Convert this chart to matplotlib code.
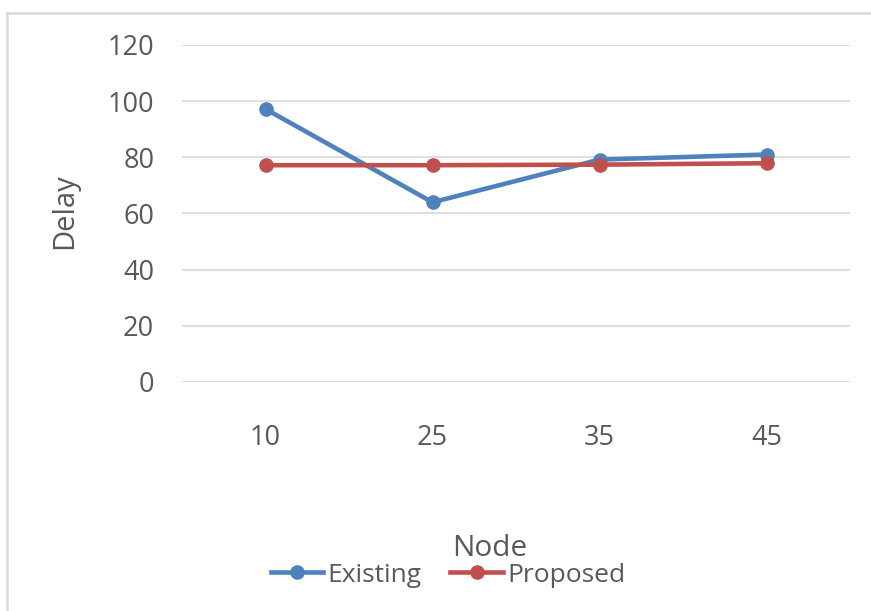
import matplotlib.pyplot as plt
from matplotlib.lines import Line2D

nodes = ['10', '25', '35', '45']
existing = [97.2, 64, 79.2, 81]
proposed = [77.2, 77.2, 77.4, 77.9]

blue = '#4F81BD'
red = '#C0504D'
txt = '#595959'
plt.rcParams['font.family'] = ['Open Sans', 'DejaVu Sans']

fig = plt.figure(figsize=(8.71, 6.11), dpi=100)
ax = fig.add_axes([182/871, 1-382/611, 668/871, 337/611])
x = range(len(nodes))
ax.plot(x, existing, color=blue, lw=3.3, marker='o', ms=9.5, label='Existing', zorder=3)
ax.plot(x, proposed, color=red, lw=3.3, marker='o', ms=9.5, label='Proposed', zorder=3)

ax.set_xlim(-0.5, len(nodes) - 0.5)
ax.set_ylim(0, 120)
ax.set_yticks(range(0, 121, 20))
ax.set_xticks(list(x))
ax.set_xticklabels(nodes)
ax.yaxis.grid(True, color='#d9d9d9', lw=1.2)
ax.set_axisbelow(True)
for s in ax.spines.values():
    s.set_visible(False)
ax.tick_params(axis='both', length=0, labelsize=19.5, labelcolor=txt)
ax.tick_params(axis='x', pad=30)
ax.tick_params(axis='y', pad=20)

fig.text(65/871, 1-211/611, 'Delay', rotation=90, ha='center', va='center', fontsize=21, color=txt)
fig.text(490/871, 1-549/611, 'Node', ha='center', va='center', fontsize=21.5, color=txt)
fig.legend(loc='center', bbox_to_anchor=(448/871, 1-575/611), ncol=2, frameon=False,
           fontsize=19, labelcolor=txt, handlelength=2.0, handletextpad=0.15, columnspacing=1.1)

# chart border (top and left visible)
fig.add_artist(Line2D([7/871, 1], [1-13/611, 1-13/611], color='#d9d9d9', lw=1.8, transform=fig.transFigure))
fig.add_artist(Line2D([7/871, 7/871], [0, 1-13/611], color='#d9d9d9', lw=1.8, transform=fig.transFigure))

fig.savefig('out.png', dpi=100, facecolor='white')
